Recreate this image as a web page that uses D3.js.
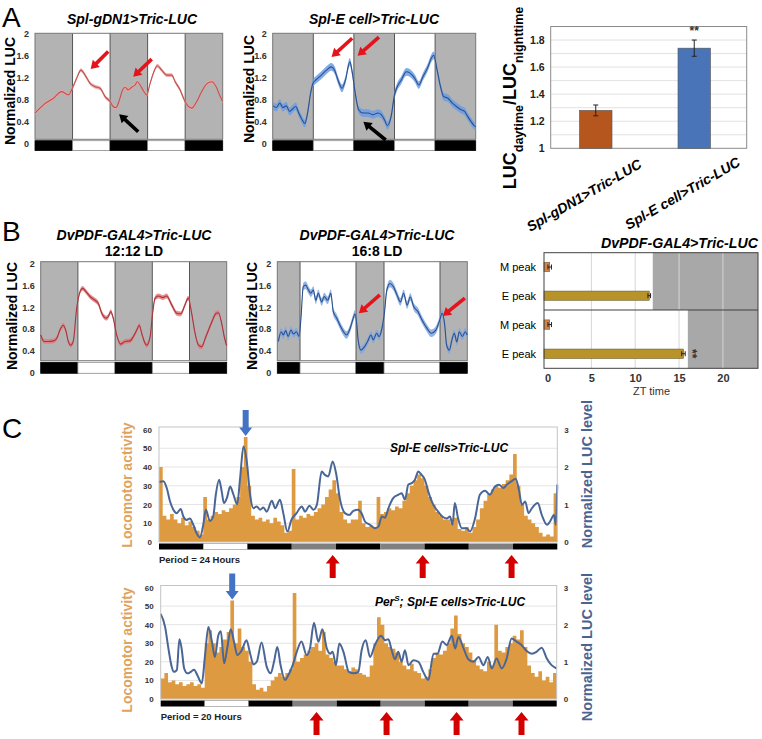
<!DOCTYPE html>
<html><head><meta charset="utf-8">
<script src="https://cdn.jsdelivr.net/npm/d3@7"></script>
<style>body{margin:0;background:#fff}svg{display:block}text{font-family:"Liberation Sans",Arial,sans-serif}</style>
</head><body>
<script>
// ================= DATA =================
// Panel A / B : normalized LUC traces (hours, value)
const lucTicks = [0, 0.4, 0.8, 1.2, 1.6, 2];
const ld1212Edges = [0, 12, 24, 36, 48, 60];
const ld1212Phases = ["D", "L", "D", "L", "D"];
const ld168Edges = [0, 6.5, 22.5, 30.5, 46.5, 54.3];
const ld168Phases = ["D", "L", "D", "L", "D"];

const gdn1Hours = [0,2.7,5.9,8.5,9.6,10.7,11.7,13.3,14.7,16,17.6,19.2,20.8,22.4,24,25,25.9,27,28,28.8,29.8,30.9,32,32.7,33.6,34.6,35.7,36.8,38,39.1,40.5,42.1,43.7,44.8,46.4,47.7,49,50.1,51.7,53.3,54.9,56.5,57.9,59.2,60];
const gdn1Values = [0.55,0.70,0.82,0.94,0.91,0.88,0.97,1.18,1.33,1.24,1.09,1.03,1.00,0.85,0.76,0.67,0.65,0.79,0.97,1.02,0.97,1.02,1.06,1.12,1.06,0.96,0.88,1.09,1.30,1.41,1.33,1.24,1.24,1.12,0.97,0.79,0.67,0.64,0.76,0.94,1.08,1.12,1.03,0.85,0.76];
const gdn1Sem = 0.035;

const splEHours = [0.1,1.1,2.1,3.0,4.0,5.0,5.8,6.8,7.7,8.5,9.5,10.3,11.2,11.9,12.9,14.4,15.9,17.3,18.3,19.3,20.5,21.5,22.8,23.4,24.4,25.4,26.7,28.2,29.6,31.1,32.1,33.1,33.9,35.1,35.9,36.6,38.0,39.5,40.5,42.0,43.2,44.4,45.9,46.9,47.6,48.6,49.6,50.5,51.8,53.1,54.3,55.7,56.7,57.7,58.7,59.4,60];
const splEValues = [0.68,0.65,0.73,0.65,0.68,0.58,0.62,0.67,0.55,0.45,0.36,0.55,0.91,1.09,1.16,1.24,1.33,1.39,1.33,1.15,1.00,1.15,1.48,1.33,0.91,0.61,0.55,0.55,0.52,0.55,0.52,0.42,0.32,0.52,0.85,1.00,1.15,1.30,1.28,1.18,1.06,1.21,1.39,1.55,1.60,1.33,1.03,0.85,0.82,0.73,0.67,0.61,0.58,0.48,0.39,0.33,0.30];
const splESem = 0.07;

const pdf1212Hours = [0,1.1,2.5,4.1,5.2,6.2,7.3,8.2,8.9,9.7,10.5,11.6,12.7,13.5,14.6,15.9,17.5,18.6,19.7,21.1,21.8,22.6,23.4,24.5,25.8,27.2,28.8,29.9,31,31.8,32.6,33.4,34.2,35.3,36.1,36.9,38,39.4,40.6,42.3,43.9,45.2,46.5,47.6,48.7,49.8,50.9,51.9,53.3,55.2,56.6,57.3,58.4,59.2,60];
const pdf1212Values = [0.69,0.57,0.57,0.58,0.63,0.78,0.87,0.75,0.57,0.50,0.57,1.18,1.49,1.55,1.49,1.40,1.33,1.27,1.09,1.00,1.03,1.12,1.00,0.69,0.52,0.57,0.58,0.66,0.78,0.87,0.72,0.57,0.50,0.66,1.09,1.37,1.41,1.38,1.41,1.24,1.09,1.08,1.24,1.37,1.09,0.72,0.50,0.47,0.66,0.93,1.09,1.10,0.90,0.66,0.49];
const pdf1212Sem = 0.045;

const pdf168Hours = [0.3,1.1,1.7,2.4,3.1,3.9,4.6,5.5,6.2,6.8,7.4,8.1,8.9,9.6,10.3,11,11.7,12.7,13.4,14.4,15.3,16,17,17.9,18.9,19.8,20.8,21.7,22.2,22.7,23.1,23.9,24.9,25.8,26.8,27.4,28.4,29.1,29.8,30.6,31.3,32.2,33.2,34.2,35.2,36.1,37.1,38,39,40.2,41.4,42.8,44,45.3,46.4,47.1,47.8,48.4,49.2,49.9,50.6,51.3,52,52.9,53.7,54.3];
const pdf168Values = [0.57,0.75,0.69,0.77,0.66,0.78,0.71,0.75,0.66,1.03,1.58,1.61,1.52,1.46,1.52,1.33,1.46,1.30,1.40,1.33,1.46,1.12,1.00,0.87,0.75,0.69,0.81,1.00,1.08,0.90,0.60,0.41,0.47,0.57,0.69,0.60,0.72,0.66,0.78,1.09,1.52,1.64,1.58,1.43,1.30,1.46,1.24,1.39,1.21,1.12,0.96,0.81,0.72,0.78,0.96,1.09,0.90,0.50,0.41,0.60,0.72,0.56,0.75,0.66,0.75,0.69];
const pdf168Sem = 0.07;

// annotation arrows in data units: [tailHour, tailValue, tipHour, tipValue]
const arrowsA1Red = [[23.4,1.67,17.8,1.35],[37.3,1.53,31.4,1.21]];
const arrowsA1Black = [[33.0,0.21,26.9,0.53]];
const arrowsA2Red = [[23.5,1.91,17.4,1.57],[31.4,1.93,25.1,1.59]];
const arrowsA2Black = [[33.4,0.06,26.8,0.39]];
const arrowsB2Red = [[29.3,1.43,23.3,1.09],[53.6,1.37,47.3,1.04]];

// Panel A right: day/night ratio
const ratioGroups = ["Spl-gDN1>Tric-LUC", "Spl-E cell>Tric-LUC"];
const ratioValues = [1.28, 1.74];
const ratioErrors = [0.04, 0.06];
const ratioTicks = [1, 1.2, 1.4, 1.6, 1.8];
const ratioSig = ["", "**"];

// Panel B right: peak times
const peakRows = ["M peak", "E peak"];
const peakConditions = ["12:12 LD", "16:8 LD"];
const mPeakTimes = [0.25, 0.25];
const mPeakErr = [0.2, 0.2];
const ePeakTimes = [11.6, 15.5];
const ePeakErr = [0.15, 0.2];
const lightsOffZT = [12, 16];
const ztTicks = [0, 5, 10, 15, 20];

// Panel C: locomotor activity (hourly bins) and LUC level
const ldC = ["D","L","D","S","D","S","D","S","D"];
const actTicks = [0,10,20,30,40,50,60];
const lucCTicks = [0,1,2,3];
const topActivity = [40,14,12,15,12,10,13,9,11,8,6,4,24,12,14,16,15,17,16,18,20,24,40,56,30,14,12,13,11,12,10,13,11,9,5,6,39,12,14,13,15,14,16,18,20,24,28,33,26,16,12,10,12,12,22,10,8,9,8,24,15,16,18,17,19,18,22,26,30,33,36,34,30,24,20,16,14,12,12,10,13,7,6,8,5,8,12,18,22,26,28,30,29,31,33,36,47,30,20,14,12,10,8,5,3,4,3,26];
const topLucHours = [0,1.2,2.1,3,3.9,4.8,5.9,6.6,7.5,8.4,9.3,10.2,11.1,12,12.7,13.8,14.7,15.4,16.3,17,17.6,18.4,19.3,20.2,21.2,22,22.9,23.8,24.7,25.6,26.5,27.4,28.3,29.2,30.6,31.5,32.8,33.7,34.8,35.9,37.3,38.7,39.6,40.8,41.9,42.8,44.1,45,45.9,47.1,48,49.1,50.4,51.6,52.7,54,54.9,55.9,57.2,58.6,59.5,60.4,61.3,62.2,63.5,64.9,65.8,66.7,67.6,68.5,69.4,70.3,71.2,72.1,73,74.4,75.7,76.8,78,78.9,79.6,80.2,81.1,82.1,83.4,84.3,85.7,87,88.4,89.7,91.1,92.2,93.4,94.3,95.6,96.7,97.6,98.4,99.3,100.2,101.1,102.7,103.8,105.2,106,107.1,107.6,108];
const topLucValues = [1.60,1.62,1.44,1.08,0.86,0.77,0.88,0.68,0.59,0.63,0.46,0.23,0.12,0.46,0.86,0.56,0.68,1.26,1.66,1.35,1.04,1.17,1.48,1.26,1.01,1.71,2.55,2.15,1.26,0.90,0.95,0.86,0.92,0.81,1.10,0.90,1.13,0.77,0.28,0.59,0.77,0.95,0.81,0.97,0.86,0.99,1.88,1.79,1.75,2.15,1.84,1.13,0.77,0.72,0.83,0.86,0.77,0.54,0.46,0.37,0.41,0.68,0.65,0.90,1.17,1.26,1.30,1.13,1.53,1.57,1.66,1.88,1.79,1.66,1.35,0.99,0.81,0.68,0.63,0.68,0.46,1.04,0.63,0.37,0.37,0.28,0.63,1.26,1.37,1.26,1.48,1.53,1.44,1.53,1.62,1.69,1.39,0.99,1.08,0.77,0.90,1.04,0.72,0.46,0.54,0.72,0.46,1.53];
const botActivity = [11,14,9,10,8,9,7,8,9,7,8,6,30,37,30,25,28,32,36,53,30,38,28,26,20,8,5,6,4,7,10,12,14,12,14,16,57,20,22,24,26,28,30,26,36,24,22,20,18,18,16,15,17,16,14,13,12,18,30,44,40,30,28,27,25,20,18,16,19,15,14,11,12,16,22,25,24,26,30,38,45,35,30,28,25,21,18,16,15,20,18,40,26,25,28,30,34,32,37,28,18,14,12,15,10,12,9,14];
const botLucHours = [0,1.2,2.1,3,3.6,4.4,5.1,5.7,6.4,7.3,8.2,9.1,10,11.2,12.1,13,13.9,14.8,15.7,16.4,17.3,18.2,19.1,20,20.9,22.1,23.4,24.4,25.3,26.2,27.5,28.9,30,30.9,31.8,32.7,33.9,34.8,36,37.1,38.4,39.8,40.7,41.8,43,44.1,45.3,46.2,46.9,47.8,48.7,49.9,51.3,52.7,53.9,54.8,55.9,57.1,58.4,60.1,61.2,62.1,63,63.9,64.8,65.7,66.6,67.6,68.9,70.3,71.6,73,74.4,75.5,76.8,78,79.4,80.3,81.2,82.6,83.9,85.3,86.7,88,89.2,90.3,91.6,93,94.3,95.7,97.1,98.4,99.8,101.2,102.5,103.9,105.3,106.6,108];
const botLucValues = [2.29,1.94,1.36,0.87,0.73,0.78,1.61,1.36,0.82,0.69,0.73,0.79,0.64,0.42,1.18,1.94,1.58,1.13,1.71,1.82,0.96,1.40,1.88,1.54,1.18,1.31,1.58,1.22,0.93,1.00,1.52,0.87,0.69,1.00,1.40,0.91,0.51,0.64,0.91,1.27,1.55,1.18,1.36,2.05,1.54,1.88,1.36,1.22,1.27,0.91,1.49,1.25,0.73,0.69,0.73,1.31,1.58,1.13,1.45,1.70,1.58,1.61,1.31,1.07,1.27,1.00,1.31,0.91,1.04,1.00,0.73,0.51,1.22,1.22,1.55,1.45,1.70,1.36,1.67,1.36,1.07,1.00,1.13,0.91,1.13,0.82,1.09,0.82,1.07,1.63,1.54,1.45,1.29,1.22,1.27,1.38,1.09,0.91,0.82];
const topPeakBin = 23;
const botPeakBin = 19;
const topRedHours = [47.1, 71.5, 95.6];
const botRedHours = [42.5, 61.6, 80.7, 98.4];

// ================= DRAWING =================
const FONT = '"Liberation Sans", Arial, sans-serif';
const GRAY = "#b3b3b3";
const svg = d3.select("body").append("svg").attr("width", 762).attr("height", 739);

function arrowPath(x1, y1, x2, y2, shaft, headL, headW) {
  const dx = x2 - x1, dy = y2 - y1, L = Math.hypot(dx, dy), ux = dx / L, uy = dy / L, px = -uy, py = ux;
  const bx = x2 - ux * headL, by = y2 - uy * headL;
  const pts = [[x1 + px * shaft / 2, y1 + py * shaft / 2], [bx + px * shaft / 2, by + py * shaft / 2], [bx + px * headW / 2, by + py * headW / 2], [x2, y2], [bx - px * headW / 2, by - py * headW / 2], [bx - px * shaft / 2, by - py * shaft / 2], [x1 - px * shaft / 2, y1 - py * shaft / 2]];
  return "M" + pts.map(p => p[0].toFixed(2) + "," + p[1].toFixed(2)).join("L") + "Z";
}

function label(txt, x, y, size, opts = {}) {
  const t = svg.append("text").attr("x", x).attr("y", y).attr("font-size", size)
    .attr("font-family", FONT).attr("fill", opts.fill || "#000")
    .attr("text-anchor", opts.anchor || "start")
    .attr("font-weight", opts.weight || "normal").attr("font-style", opts.style || "normal");
  if (opts.transform) t.attr("transform", opts.transform).attr("x", 0).attr("y", 0);
  t.text(txt);
  return t;
}

function lucPanel(o) {
  const x = d3.scaleLinear().domain([o.edges[0], o.edges[o.edges.length - 1]]).range([o.x0, o.x1]);
  const y = d3.scaleLinear().domain([0, 2]).range([o.y0, o.y2]);
  const g = svg.append("g");
  o.phases.forEach((p, i) => {
    const a = x(o.edges[i]), b = x(o.edges[i + 1]);
    g.append("rect").attr("x", a).attr("y", o.bgTop).attr("width", b - a).attr("height", o.bgBot - o.bgTop).attr("fill", p === "D" ? GRAY : "#fff");
    g.append("rect").attr("x", a).attr("y", o.barTop).attr("width", b - a).attr("height", o.barBot - o.barTop)
      .attr("fill", p === "D" ? "#000" : "#fff").attr("stroke", p === "D" ? "#000" : "#888").attr("stroke-width", 0.8);
  });
  o.edges.slice(1, -1).forEach(e => {
    g.append("line").attr("x1", x(e)).attr("x2", x(e)).attr("y1", o.bgTop).attr("y2", o.bgBot).attr("stroke", "#555").attr("stroke-width", 1);
  });
  g.append("rect").attr("x", o.x0).attr("y", o.bgTop).attr("width", o.x1 - o.x0).attr("height", o.bgBot - o.bgTop)
    .attr("fill", "none").attr("stroke", "#777").attr("stroke-width", 1);
  const data = o.hours.map((h, i) => ({ h, v: o.values[i] }));
  const area = d3.area().x(d => x(d.h)).y0(d => y(d.v - o.sem)).y1(d => y(d.v + o.sem)).curve(d3.curveMonotoneX);
  const line = d3.line().x(d => x(d.h)).y(d => y(d.v)).curve(d3.curveMonotoneX);
  g.append("path").attr("d", area(data)).attr("fill", o.band).attr("opacity", 0.85);
  g.append("path").attr("d", line(data)).attr("fill", "none").attr("stroke", o.color).attr("stroke-width", 1.1);
  const ax = g.append("g").attr("transform", `translate(${o.x0 - 1},0)`)
    .call(d3.axisLeft(y).tickValues(lucTicks).tickSize(0).tickPadding(5).tickFormat(d => String(d)));
  ax.select(".domain").remove();
  ax.selectAll("text").attr("font-family", FONT).attr("font-size", 9).attr("font-weight", "bold").attr("fill", "#333");
  (o.redArrows || []).forEach(a => g.append("path").attr("d", arrowPath(x(a[0]), y(a[1]), x(a[2]), y(a[3]), 3.6, 8, 10)).attr("fill", "#e3141b"));
  (o.blackArrows || []).forEach(a => g.append("path").attr("d", arrowPath(x(a[0]), y(a[1]), x(a[2]), y(a[3]), 3.6, 8, 10)).attr("fill", "#000"));
  label("Normalized LUC", 0, 0, 14, { weight: "bold", anchor: "middle", transform: `translate(${o.ylabX},${o.ylabY}) rotate(-90)` });
}

// ---- Panel letters
label("A", 2, 27, 28);
label("B", 2, 241, 28);
label("C", 2, 438, 28);

// ---- Panel A
label("Spl-gDN1>Tric-LUC", 132, 24, 14, { weight: "bold", style: "italic", anchor: "middle" });
label("Spl-E cell>Tric-LUC", 374, 24, 14, { weight: "bold", style: "italic", anchor: "middle" });
lucPanel({ x0: 35, x1: 222.7, y0: 143.3, y2: 33.3, bgTop: 33.3, bgBot: 139.3, barTop: 140.7, barBot: 150.5,
  edges: ld1212Edges, phases: ld1212Phases, hours: gdn1Hours, values: gdn1Values, sem: gdn1Sem,
  color: "#c0504d", band: "#e9a3a1", redArrows: arrowsA1Red, blackArrows: arrowsA1Black, ylabX: 15, ylabY: 91 });
lucPanel({ x0: 272.7, x1: 475.7, y0: 143.3, y2: 33.3, bgTop: 33.3, bgBot: 139.3, barTop: 140.7, barBot: 150.5,
  edges: ld1212Edges, phases: ld1212Phases, hours: splEHours, values: splEValues, sem: splESem,
  color: "#2c4f8c", band: "#6b9ee3", redArrows: arrowsA2Red, blackArrows: arrowsA2Black, ylabX: 254, ylabY: 89 });

// ---- Panel A right: ratio bar chart
(function () {
  const fx0 = 550.7, fx1 = 746.7, fy0 = 26.5, fy1 = 148.3;
  const y = d3.scaleLinear().domain([1, 1.9]).range([fy1, fy0]);
  const x = d3.scaleBand().domain(ratioGroups).range([547, 743]).paddingInner(0.67).paddingOuter(0.33);
  const g = svg.append("g");
  d3.range(1.1, 1.9, 0.1).forEach(v => g.append("line").attr("x1", fx0).attr("x2", fx1).attr("y1", y(v)).attr("y2", y(v)).attr("stroke", "#e2e2e2"));
  g.append("rect").attr("x", fx0).attr("y", fy0).attr("width", fx1 - fx0).attr("height", fy1 - fy0).attr("fill", "none").attr("stroke", "#8a8a8a");
  const colors = ["#b5561f", "#4a74b8"];
  ratioGroups.forEach((k, i) => {
    g.append("rect").attr("x", x(k)).attr("y", y(ratioValues[i])).attr("width", x.bandwidth()).attr("height", y(1) - y(ratioValues[i]))
      .attr("fill", colors[i]).attr("stroke", "#555").attr("stroke-width", 0.6);
    const cx = x(k) + x.bandwidth() / 2;
    const lo = y(ratioValues[i] - ratioErrors[i]), hi = y(ratioValues[i] + ratioErrors[i]);
    g.append("line").attr("x1", cx).attr("x2", cx).attr("y1", lo).attr("y2", hi).attr("stroke", "#222");
    [lo, hi].forEach(yy => g.append("line").attr("x1", cx - 2.5).attr("x2", cx + 2.5).attr("y1", yy).attr("y2", yy).attr("stroke", "#222"));
    if (ratioSig[i]) label(ratioSig[i], cx, hi - 5, 12, { anchor: "middle", weight: "bold", fill: "#333" });
    label(k, 0, 0, 14, { weight: "bold", style: "italic", anchor: "end", transform: `translate(${cx + 47},${167 - 2 * i}) rotate(-30)` });
  });
  const ax = g.append("g").attr("transform", `translate(${fx0},0)`)
    .call(d3.axisLeft(y).tickValues(ratioTicks).tickSize(0).tickPadding(6).tickFormat(d => String(d)));
  ax.select(".domain").remove();
  ax.selectAll("text").attr("font-family", FONT).attr("font-size", 10.5).attr("font-weight", "bold").attr("fill", "#222");
  const t = svg.append("text").attr("transform", "translate(516,98) rotate(-90)").attr("text-anchor", "middle")
    .attr("font-family", FONT).attr("font-weight", "bold");
  t.append("tspan").attr("font-size", 18).text("LUC");
  t.append("tspan").attr("font-size", 12.5).attr("dy", 7).text("daytime");
  t.append("tspan").attr("font-size", 18).attr("dy", -7).text("/LUC");
  t.append("tspan").attr("font-size", 12.5).attr("dy", 7).text("nighttime");
})();

// ---- Panel B
label("DvPDF-GAL4>Tric-LUC", 134, 240, 14, { weight: "bold", style: "italic", anchor: "middle" });
label("12:12 LD", 134, 256, 14, { weight: "bold", anchor: "middle" });
label("DvPDF-GAL4>Tric-LUC", 377, 240, 14, { weight: "bold", style: "italic", anchor: "middle" });
label("16:8 LD", 377, 256, 14, { weight: "bold", anchor: "middle" });
lucPanel({ x0: 40.7, x1: 226.7, y0: 372.3, y2: 264, bgTop: 261.7, bgBot: 360.7, barTop: 362.3, barBot: 373.3,
  edges: ld1212Edges, phases: ld1212Phases, hours: pdf1212Hours, values: pdf1212Values, sem: pdf1212Sem,
  color: "#a8343c", band: "#e07b7e", ylabX: 16.5, ylabY: 316 });
lucPanel({ x0: 277.3, x1: 467.3, y0: 372.3, y2: 264, bgTop: 261.7, bgBot: 360.7, barTop: 362.3, barBot: 373.3,
  edges: ld168Edges, phases: ld168Phases, hours: pdf168Hours, values: pdf168Values, sem: pdf168Sem,
  color: "#2c4f8c", band: "#7ea6e0", redArrows: arrowsB2Red, ylabX: 257, ylabY: 316 });

// ---- Panel B right: peak time bars
(function () {
  const fx0 = 544, fx1 = 758, fy0 = 252.7, fyM = 310, fy1 = 368.3;
  const x = d3.scaleLinear().domain([-0.4, 24]).range([fx0, fx1]);
  const g = svg.append("g");
  const halves = [[fy0, fyM], [fyM, fy1]];
  halves.forEach((hf, i) => {
    g.append("rect").attr("x", fx0).attr("y", hf[0]).attr("width", fx1 - fx0).attr("height", hf[1] - hf[0]).attr("fill", "#fff");
    g.append("rect").attr("x", x(lightsOffZT[i])).attr("y", hf[0]).attr("width", fx1 - x(lightsOffZT[i])).attr("height", hf[1] - hf[0]).attr("fill", "#a8a8a8");
  });
  ztTicks.slice(1).forEach(t => g.append("line").attr("x1", x(t)).attr("x2", x(t)).attr("y1", fy0).attr("y2", fy1).attr("stroke", "#d6d6d6").attr("stroke-width", 1));
  halves.forEach((hf, i) => {
    const yb = d3.scaleBand().domain(peakRows).range(hf).paddingInner(0.68).paddingOuter(0.34);
    const vals = [mPeakTimes[i], ePeakTimes[i]], errs = [mPeakErr[i], ePeakErr[i]], cols = ["#d6834a", "#b8932a"];
    peakRows.forEach((r, j) => {
      g.append("rect").attr("x", fx0).attr("y", yb(r)).attr("width", x(vals[j]) - fx0).attr("height", yb.bandwidth())
        .attr("fill", cols[j]).attr("stroke", "#6b5a2a").attr("stroke-width", 0.6);
      const cy = yb(r) + yb.bandwidth() / 2;
      g.append("line").attr("x1", x(vals[j] - errs[j])).attr("x2", x(vals[j] + errs[j])).attr("y1", cy).attr("y2", cy).attr("stroke", "#222");
      [vals[j] - errs[j], vals[j] + errs[j]].forEach(v => g.append("line").attr("x1", x(v)).attr("x2", x(v)).attr("y1", cy - 2.5).attr("y2", cy + 2.5).attr("stroke", "#222"));
      svg.append("text").attr("x", fx0 - 8).attr("y", cy + 4).attr("text-anchor", "end").attr("font-family", '"Open Sans", sans-serif').attr("font-size", 11).text(r);
      if (i === 1 && j === 1) label("**", 0, 0, 12, { weight: "bold", fill: "#333", anchor: "middle", transform: `translate(${x(vals[j] + errs[j]) + 3},${cy}) rotate(90)` });
    });
  });
  g.append("rect").attr("x", fx0).attr("y", fy0).attr("width", fx1 - fx0).attr("height", fy1 - fy0).attr("fill", "none").attr("stroke", "#404040");
  g.append("line").attr("x1", fx0).attr("x2", fx1).attr("y1", fyM).attr("y2", fyM).attr("stroke", "#404040");
  const ax = g.append("g").attr("transform", `translate(0,${fy1})`).call(d3.axisBottom(x).tickValues(ztTicks).tickSize(0).tickPadding(6));
  ax.select(".domain").remove();
  ax.selectAll("text").attr("font-family", '"Open Sans", sans-serif').attr("font-size", 11).attr("font-weight", "bold").attr("fill", "#333");
  svg.append("text").attr("x", 651.5).attr("y", 395).attr("text-anchor", "middle").attr("font-family", '"Open Sans", sans-serif').attr("font-size", 11).attr("fill", "#333").text("ZT time");
  label("DvPDF-GAL4>Tric-LUC", 758, 248, 14.2, { weight: "bold", style: "italic", anchor: "end" });
})();

// ---- Panel C
function activityPanel(o) {
  const x = d3.scaleLinear().domain([0, 108]).range([o.x0, o.x1]);
  const yA = d3.scaleLinear().domain([0, 60]).range([o.yBot, o.yTop]);
  const yL = d3.scaleLinear().domain([0, 3]).range([o.yBot, o.yTop]);
  const g = svg.append("g");
  actTicks.slice(1, -1).forEach(t => g.append("line").attr("x1", o.x0).attr("x2", o.x1).attr("y1", yA(t)).attr("y2", yA(t)).attr("stroke", "#e4e4e4"));
  const bins = o.activity.map((v, i) => ({ h: i, v })).concat([{ h: o.activity.length, v: o.activity[o.activity.length - 1] }]);
  g.append("path").attr("d", d3.area().x(d => x(d.h)).y0(o.yBot).y1(d => yA(d.v)).curve(d3.curveStepAfter)(bins)).attr("fill", "#de9a40");
  const data = o.lucHours.map((h, i) => ({ h, v: o.lucValues[i] }));
  g.append("path").attr("d", d3.line().x(d => x(d.h)).y(d => yL(d.v)).curve(d3.curveMonotoneX)(data))
    .attr("fill", "none").attr("stroke", "#4a6696").attr("stroke-width", 2);
  g.append("rect").attr("x", o.x0).attr("y", o.frameTop).attr("width", o.x1 - o.x0).attr("height", o.yBot - o.frameTop)
    .attr("fill", "none").attr("stroke", "#c4c4c4");
  const axL = g.append("g").attr("transform", `translate(${o.x0 - 2},0)`).call(d3.axisLeft(yA).tickValues(actTicks).tickSize(0).tickPadding(5).tickFormat(d => String(d)));
  axL.select(".domain").remove();
  axL.selectAll("text").attr("font-family", FONT).attr("font-size", 8).attr("font-weight", "bold").attr("fill", "#333");
  const axR = g.append("g").attr("transform", `translate(${o.x1 + 2},0)`).call(d3.axisRight(yL).tickValues(lucCTicks).tickSize(0).tickPadding(5).tickFormat(d => String(d)));
  axR.select(".domain").remove();
  axR.selectAll("text").attr("font-family", FONT).attr("font-size", 8).attr("font-weight", "bold").attr("fill", "#333");
  ldC.forEach((p, i) => {
    g.append("rect").attr("x", x(i * 12)).attr("y", o.yBot + 1.5).attr("width", x((i + 1) * 12) - x(i * 12)).attr("height", 6)
      .attr("fill", p === "D" ? "#000" : p === "S" ? "#808080" : "#fff").attr("stroke", p === "L" ? "#888" : "none").attr("stroke-width", 0.6);
  });
  // blue peak arrow
  const bx = x(o.peakBin + 0.5), tipY = yA(o.activity[o.peakBin]) - 1;
  g.append("path").attr("d", arrowPath(bx, tipY - 26, bx, tipY, 6, 8.5, 13)).attr("fill", "#4472c4");
  o.redHours.forEach(h => g.append("path").attr("d", arrowPath(x(h), o.yBot + 36, x(h), o.yBot + 13, 6, 8.5, 14)).attr("fill", "#d40000"));
  label(o.period, o.x0, o.yBot + 20.5, 9.5, { weight: "bold", fill: "#222" });
  label("Locomotor activity", 0, 0, 14, { weight: "bold", fill: "#e0a35e", anchor: "middle", transform: `translate(132,${o.labY}) rotate(-90)` });
  label("Normalized LUC level", 0, 0, 14.5, { weight: "bold", fill: "#4a6491", anchor: "middle", transform: `translate(592,${o.rLabY}) rotate(-90)` });
}
activityPanel({ x0: 159, x1: 557.3, yTop: 429.5, yBot: 542, frameTop: 427, activity: topActivity, lucHours: topLucHours, lucValues: topLucValues,
  peakBin: topPeakBin, redHours: topRedHours, period: "Period = 24 Hours", labY: 485, rLabY: 474 });
activityPanel({ x0: 160.7, x1: 556.7, yTop: 587.5, yBot: 699, frameTop: 585.5, activity: botActivity, lucHours: botLucHours, lucValues: botLucValues,
  peakBin: botPeakBin, redHours: botRedHours, period: "Period = 20 Hours", labY: 650, rLabY: 647 });
label("Spl-E cells>Tric-LUC", 449, 452, 12, { weight: "bold", style: "italic", anchor: "middle" });
(function () {
  const t = svg.append("text").attr("x", 450).attr("y", 606).attr("text-anchor", "middle").attr("font-family", FONT)
    .attr("font-weight", "bold").attr("font-style", "italic").attr("font-size", 12);
  t.append("tspan").text("Per");
  t.append("tspan").attr("font-size", 8).attr("dy", -5).text("S");
  t.append("tspan").attr("dy", 5).text("; Spl-E cells>Tric-LUC");
})();
</script>
</body></html>
